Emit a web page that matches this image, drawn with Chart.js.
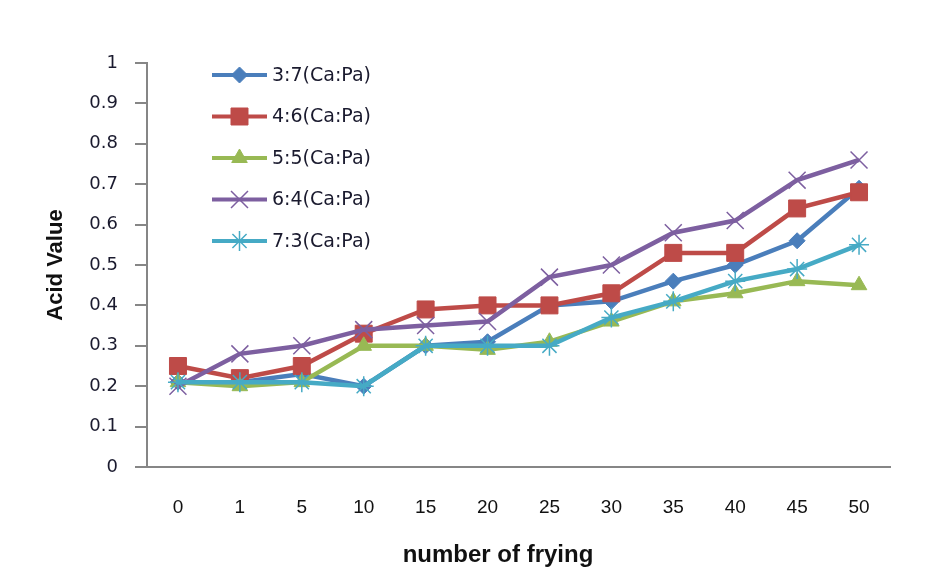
<!DOCTYPE html>
<html>
<head>
<meta charset="utf-8">
<script src="https://cdn.jsdelivr.net/npm/chart.js@4.4.0/dist/chart.umd.min.js"></script>
<style>
  html, body { margin: 0; padding: 0; background: #fff; }
  #wrap { width: 941px; height: 577px; }
</style>
</head>
<body>
<div id="wrap"><canvas id="acidChart" width="941" height="577"></canvas></div>
<script>
// categorias e series
const fryings = ['0', '1', '5', '10', '15', '20', '25', '30', '35', '40', '45', '50'];
const ratio37 = [0.21, 0.21, 0.23, 0.20, 0.30, 0.31, 0.40, 0.41, 0.46, 0.50, 0.56, 0.69];
const ratio46 = [0.25, 0.22, 0.25, 0.33, 0.39, 0.40, 0.40, 0.43, 0.53, 0.53, 0.64, 0.68];
const ratio55 = [0.21, 0.20, 0.21, 0.30, 0.30, 0.29, 0.31, 0.36, 0.41, 0.43, 0.46, 0.45];
const ratio64 = [0.20, 0.28, 0.30, 0.34, 0.35, 0.36, 0.47, 0.50, 0.58, 0.61, 0.71, 0.76];
const ratio73 = [0.21, 0.21, 0.21, 0.20, 0.30, 0.30, 0.30, 0.37, 0.41, 0.46, 0.49, 0.55];
const seriesLabels = ['3:7(Ca:Pa)', '4:6(Ca:Pa)', '5:5(Ca:Pa)', '6:4(Ca:Pa)', '7:3(Ca:Pa)'];
const yTicks = [0, 0.1, 0.2, 0.3, 0.4, 0.5, 0.6, 0.7, 0.8, 0.9, 1];
const xTitle = 'number of frying';

const cores = ['#4A7EBB', '#BE4B48', '#98B954', '#7D5FA0', '#46AAC5'];
const estilos = ['rectRot', 'rect', 'triangle', 'crossRot', 'star'];
const raios = [8, 12, 9, 12, 10];
const bordas = [1, 1, 1, 1.5, 1.5];

const makeDataset = (i, data) => ({
    label: seriesLabels[i],
    data: data,
    borderColor: cores[i],
    backgroundColor: cores[i],
    pointBackgroundColor: cores[i],
    pointBorderColor: cores[i],
    pointStyle: estilos[i],
    pointRadius: raios[i],
    pointBorderWidth: bordas[i],
    borderWidth: 4.5,
    tension: 0,
    order: 4 - i
});

// Legenda dentro da area do grafico + titulo do eixo x
const legendaInterna = {
    id: 'legendaInterna',
    afterDraw(chart) {
        const ctx = chart.ctx;
        ctx.save();
        chart.data.datasets.forEach((ds, i) => {
            const y = 75 + i * 41.5;
            ctx.strokeStyle = ds.borderColor;
            ctx.lineWidth = 4;
            ctx.beginPath();
            ctx.moveTo(212, y);
            ctx.lineTo(267, y);
            ctx.stroke();
            ctx.fillStyle = ds.pointBackgroundColor;
            ctx.strokeStyle = ds.pointBorderColor;
            ctx.lineWidth = ds.pointBorderWidth;
            Chart.helpers.drawPoint(ctx, {
                pointStyle: ds.pointStyle,
                radius: ds.pointRadius,
                rotation: 0,
                borderWidth: ds.pointBorderWidth
            }, 239.5, y);
            ctx.fillStyle = '#1a1a2e';
            ctx.font = '19px "DejaVu Sans"';
            ctx.textAlign = 'left';
            ctx.textBaseline = 'middle';
            ctx.fillText(ds.label, 272, y + 1);
        });
        ctx.fillStyle = '#111';
        ctx.font = 'bold 24px "Liberation Sans"';
        ctx.textAlign = 'center';
        ctx.textBaseline = 'middle';
        ctx.fillText(xTitle, 498, 555);
        ctx.restore();
    }
};

new Chart(document.getElementById('acidChart'), {
    type: 'line',
    data: {
        labels: fryings,
        datasets: [
            makeDataset(0, ratio37),
            makeDataset(1, ratio46),
            makeDataset(2, ratio55),
            makeDataset(3, ratio64),
            makeDataset(4, ratio73)
        ]
    },
    options: {
        responsive: false,
        animation: false,
        layout: { padding: { top: 63, right: 51, bottom: 0, left: 0 } },
        plugins: {
            legend: { display: false },
            tooltip: { enabled: false }
        },
        scales: {
            x: {
                offset: true,
                grid: { display: false },
                border: { display: true, color: '#868686', width: 2 },
                ticks: {
                    color: '#111',
                    font: { family: '"Liberation Sans"', size: 19 },
                    padding: 21,
                    maxRotation: 0
                },
                afterFit: (scale) => { scale.height = 110; }
            },
            y: {
                min: 0,
                max: 1,
                afterBuildTicks: (scale) => { scale.ticks = yTicks.map(v => ({ value: v })); },
                grid: { drawOnChartArea: false, drawTicks: true, tickLength: 12, color: '#868686', lineWidth: 2 },
                border: { display: true, color: '#868686', width: 2 },
                ticks: {
                    color: '#1a1a2e',
                    font: { family: '"DejaVu Sans"', size: 18 },
                    padding: 17,
                    callback: (v) => String(Math.round(v * 10) / 10)
                },
                title: {
                    display: true,
                    text: 'Acid Value',
                    color: '#111',
                    font: { family: '"Liberation Sans"', size: 22, weight: 'bold' },
                    padding: { top: 43, bottom: 0 }
                },
                afterFit: (scale) => { scale.width = 147; }
            }
        }
    },
    plugins: [legendaInterna]
});
</script>
</body>
</html>
